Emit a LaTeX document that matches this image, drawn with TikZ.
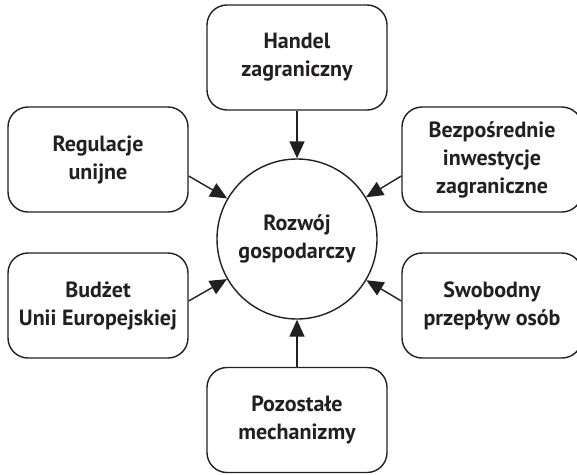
\documentclass[tikz,border=0pt]{standalone}
\usepackage{fontspec}
\setmainfont{PT Sans}
\usetikzlibrary{arrows.meta}
\definecolor{ink}{RGB}{35,31,32}
\begin{document}
\begin{tikzpicture}[x=1pt,y=-1pt]
\tikzset{box/.style={draw=ink,line width=1.4pt,rounded corners=20pt,minimum width=180pt,minimum height=105pt,inner sep=0pt,align=center,text=ink,font=\bfseries\fontsize{22}{28}\selectfont}}
\tikzset{hub/.style={draw=ink,line width=1.4pt,circle,minimum size=160pt,inner sep=0pt,align=center,text=ink,font=\bfseries\fontsize{22}{28}\selectfont}}
\tikzset{arr/.style={draw=ink,line width=1.4pt,-{Triangle[length=17pt,width=15pt]}}}
\useasboundingbox (0,0) rectangle (577,474);
\clip (0,0) rectangle (577,474);
\node[hub] (rozwoj) at (297,239) {Rozwój\\gospodarczy};
\node[box] (handel) at (297,57.5) {Handel\\zagraniczny};
\node[box] (regulacje) at (98,159.5) {Regulacje\\unijne};
\node[box] (inwestycje) at (492,159.5) {Bezpośrednie\\inwestycje\\zagraniczne};
\node[box] (budzet) at (98,305.5) {Budżet\\Unii Europejskiej};
\node[box] (osoby) at (492,305.5) {Swobodny\\przepływ osób};
\node[box] (pozostale) at (297,420) {Pozostałe\\mechanizmy};
\draw[arr] (handel) -- (rozwoj);
\draw[arr] ([yshift=-16.5pt]regulacje.east) -- (rozwoj);
\draw[arr] ([yshift=-16.5pt]inwestycje.west) -- (rozwoj);
\draw[arr] ([yshift=4.5pt]budzet.east) -- (rozwoj);
\draw[arr] ([yshift=4.5pt]osoby.west) -- (rozwoj);
\draw[arr] (pozostale) -- (rozwoj);
\end{tikzpicture}
\end{document}
